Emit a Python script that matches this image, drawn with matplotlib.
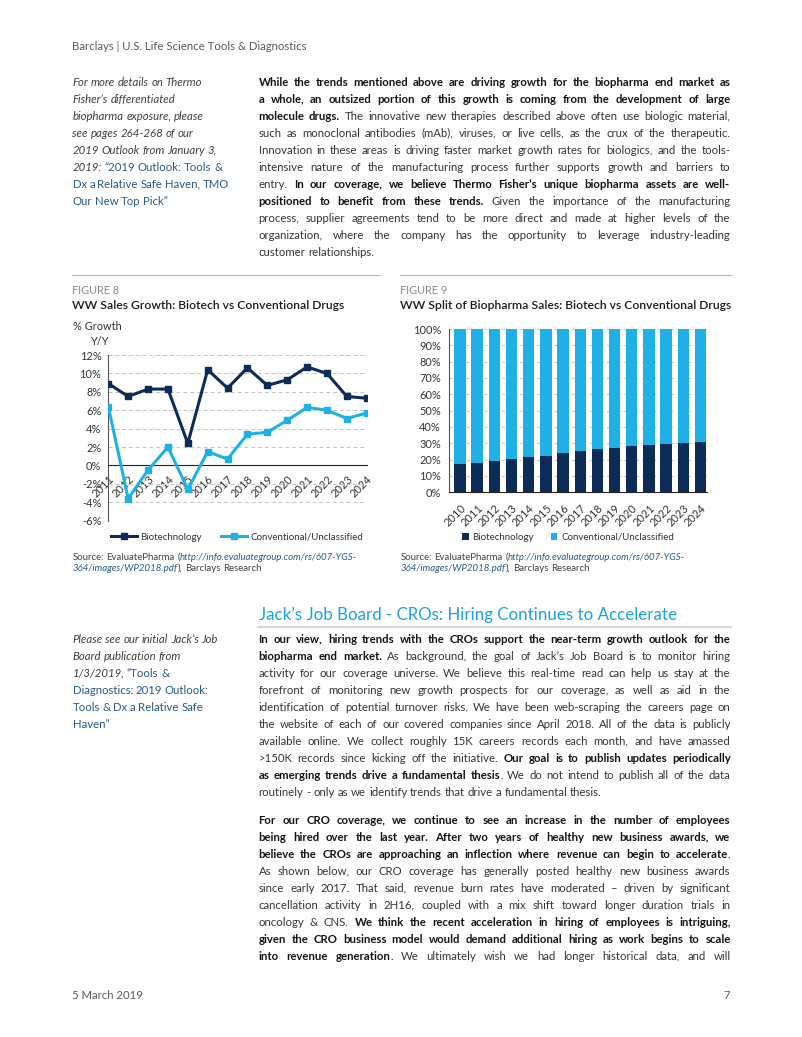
import math
import matplotlib
matplotlib.use('Agg')
import matplotlib.pyplot as plt
from matplotlib.lines import Line2D
import numpy as np

# ---- chart data ----
years_g = ['2011', '2012', '2013', '2014', '2015', '2016', '2017', '2018',
           '2019', '2020', '2021', '2022', '2023', '2024']
biotech_growth = [8.9, 7.5, 8.3, 8.3, 2.4, 10.4, 8.4, 10.6, 8.7, 9.3, 10.7, 10.0, 7.5, 7.3]
conv_growth = [6.4, -3.6, -0.5, 2.0, -2.6, 1.5, 0.7, 3.4, 3.6, 4.9, 6.3, 6.0, 5.1, 5.7]

years_s = ['2010', '2011', '2012', '2013', '2014', '2015', '2016', '2017',
           '2018', '2019', '2020', '2021', '2022', '2023', '2024']
biotech_share = [17.3, 17.8, 19.2, 20.4, 21.4, 22.4, 23.9, 25.1, 26.3, 27.3, 28.4, 29.0, 29.8, 30.2, 30.8]
conv_share = [82.7, 82.2, 80.8, 79.6, 78.6, 77.6, 76.1, 74.9, 73.7, 72.7, 71.6, 71.0, 70.2, 69.8, 69.2]

growth_ticks = [-6, -4, -2, 0, 2, 4, 6, 8, 10, 12]
share_ticks = [0, 10, 20, 30, 40, 50, 60, 70, 80, 90, 100]

# ---- page text ----
header = 'Barclays | U.S. Life Science Tools & Diagnostics'
side1 = ['For more details on Thermo',
         'Fisher\u2019s differentiated',
         'biopharma exposure, please',
         'see pages 264-268 of our',
         '2019 Outlook from January 3,',
         '2019: ~\u201c2019 Outlook: Tools &',
         'Dx a Relative Safe Haven, TMO',
         'Our New Top Pick\u201d~']
para1 = ['*While the trends mentioned above are driving growth for the biopharma end market as',
         'a whole, an outsized portion of this growth is coming from the development of large',
         'molecule drugs.* The innovative new therapies described above often use biologic material,',
         'such as monoclonal antibodies (mAb), viruses, or live cells, as the crux of the therapeutic.',
         'Innovation in these areas is driving faster market growth rates for biologics, and the tools-',
         'intensive nature of the manufacturing process further supports growth and barriers to',
         'entry. *In our coverage, we believe Thermo Fisher\u2019s unique biopharma assets are well-',
         'positioned to benefit from these trends.* Given the importance of the manufacturing',
         'process, supplier agreements tend to be more direct and made at higher levels of the',
         'organization, where the company has the opportunity to leverage industry-leading',
         'customer relationships.']
heading = 'Jack\u2019s Job Board - CROs: Hiring Continues to Accelerate'
side2 = ['Please see our initial Jack\u2019s Job',
         'Board publication from',
         '1/3/2019, ~\u201cTools &',
         'Diagnostics: 2019 Outlook:',
         'Tools & Dx a Relative Safe',
         'Haven\u201d~']
para2 = ['*In our view, hiring trends with the CROs support the near-term growth outlook for the',
         'biopharma end market.* As background, the goal of Jack\u2019s Job Board is to monitor hiring',
         'activity for our coverage universe. We believe this real-time read can help us stay at the',
         'forefront of monitoring new growth prospects for our coverage, as well as aid in the',
         'identification of potential turnover risks. We have been web-scraping the careers page on',
         'the website of each of our covered companies since April 2018. All of the data is publicly',
         'available online. We collect roughly 15K careers records each month, and have amassed',
         '>150K records since kicking off the initiative. *Our goal is to publish updates periodically',
         'as emerging trends drive a fundamental thesis*. We do not intend to publish all of the data',
         'routinely - only as we identify trends that drive a fundamental thesis.']
para3 = ['*For our CRO coverage, we continue to see an increase in the number of employees',
         'being hired over the last year. After two years of healthy new business awards, we',
         'believe the CROs are approaching an inflection where revenue can begin to accelerate*.',
         'As shown below, our CRO coverage has generally posted healthy new business awards',
         'since early 2017. That said, revenue burn rates have moderated \u2013 driven by significant',
         'cancellation activity in 2H16, coupled with a mix shift toward longer duration trials in',
         'oncology & CNS. *We think the recent acceleration in hiring of employees is intriguing,',
         'given the CRO business model would demand additional hiring as work begins to scale',
         'into revenue generation*. We ultimately wish we had longer historical data, and will']
source = ['Source: EvaluatePharma (~http://info.evaluategroup.com/rs/607-YGS-',
          '364/images/WP2018.pdf~), Barclays Research']

NAVY = '#0c2b57'
CYAN = '#1fb1e6'
LINK = '#2a5a86'
FONT = 'Lato'
BODY = 8.2
TICK = 7.9

W, H = 802, 1037
plt.rcParams['font.family'] = [FONT, 'DejaVu Sans']
fig = plt.figure(figsize=(W / 100, H / 100), dpi=100, facecolor='w')
rend = fig.canvas.get_renderer()


def fx(x):
    return x / W


def fy(y):
    return 1 - y / H


def base_y(y):
    # keep every baseline on the same sub-pixel phase so glyphs line up
    return math.floor(y) + 0.7


def wid(s, **kw):
    t = fig.text(0, 0, s, **kw)
    w = t.get_window_extent(rend).width
    t.remove()
    return w


def parse(line, state):
    # '*' toggles bold, '~' toggles the alternate (link) style
    words = []
    for w in line.split(' '):
        if not w:
            continue
        pieces = []
        buf = ''
        for ch in w:
            if ch in '*~':
                if buf:
                    pieces.append((buf, state['b'], state['a']))
                buf = ''
                if ch == '*':
                    state['b'] = not state['b']
                else:
                    state['a'] = not state['a']
            else:
                buf += ch
        if buf:
            pieces.append((buf, state['b'], state['a']))
        if pieces:
            words.append(pieces)
    return words


def block(lines, x0, y0, dy, base, alt=None, bold=None, width=None, last_just=False):
    state = {'b': False, 'a': False}
    sp = wid('x x', **base) - wid('xx', **base)
    for i, line in enumerate(lines):
        words = parse(line, state)
        meas = []
        for pieces in words:
            row = []
            for p, b, a in pieces:
                kw = dict(alt if (a and alt) else base)
                if b and bold:
                    kw.update(bold)
                row.append([p, kw, wid(p, **kw)])
            meas.append(row)
        n = len(meas)
        tot = sum(q[2] for row in meas for q in row)
        is_last = i == len(lines) - 1
        if width and n > 1 and (not is_last or last_just):
            need = tot + (n - 1) * sp * 0.6
            if need > width:
                # squeeze an over-long line a little so it stays in the column
                f = (width - (n - 1) * sp * 0.6) / tot
                for row in meas:
                    for q in row:
                        q[1] = dict(q[1], fontsize=q[1]['fontsize'] * f)
                        q[2] *= f
                tot *= f
            gap = (width - tot) / (n - 1)
        else:
            gap = sp
        x = x0
        y = base_y(y0 + i * dy + 3.5)
        for row in meas:
            for p, kw, w in row:
                fig.text(fx(x), fy(y), p, va='baseline', ha='left', **kw)
                x += w
            x += gap


body_kw = dict(fontsize=BODY, color='#363636')
bold_kw = dict(fontweight='bold', color='#141414')
side_kw = dict(fontsize=BODY, color='#404040', style='italic')
side_link = dict(fontsize=BODY, color=LINK, style='normal')
LS = 16.94

# header / footer
fig.text(fx(72.5), fy(base_y(49.5)), header, fontsize=BODY, color='#5a5a5a', va='baseline')
fig.text(fx(72.5), fy(base_y(998.5)), '5 March 2019', fontsize=BODY, color='#5a5a5a', va='baseline')
fig.text(fx(730.5), fy(base_y(998.5)), '7', fontsize=BODY, color='#5a5a5a', va='baseline', ha='right')

# top text
block(side1, 72.5, 82.3, LS, side_kw, alt=side_link)
block(para1, 258.5, 82.3, LS, body_kw, bold=bold_kw, width=472)

# figure headers
for xa, xb, lab, title in [(72, 380, 'FIGURE 8', 'WW Sales Growth: Biotech vs Conventional Drugs'),
                           (400, 731, 'FIGURE 9', 'WW Split of Biopharma Sales: Biotech vs Conventional Drugs')]:
    fig.add_artist(Line2D([fx(xa), fx(xb)], [fy(275), fy(275)], color='#b5b5b5', lw=0.8))
    fig.text(fx(xa + 0.5), fy(base_y(293.5)), lab, fontsize=7.8, color='#8a8a8a', va='baseline')
    fig.text(fx(xa + 0.5), fy(base_y(308.5)), title, fontsize=8.7, color='#1a1a1a',
             fontweight='semibold', va='baseline')
    block(source, xa + 0.5, 556, 11.3, dict(fontsize=6.9, color='#404040'),
          alt=dict(fontsize=6.9, color=LINK, style='italic'))

# ---- Figure 8: line chart ----
ax1 = fig.add_axes([fx(108.3), fy(520.7), (366.7 - 108.3) / W, (520.7 - 355) / H])
for s in ['top', 'right']:
    ax1.spines[s].set_visible(False)
ax1.spines['bottom'].set_position(('data', 0))
ax1.spines['bottom'].set_color('#222222')
ax1.spines['left'].set_color('#555555')
xg = np.arange(len(years_g))
ax1.plot(xg, biotech_growth, color=NAVY, lw=2.2, marker='s', ms=4.3, label='Biotechnology', zorder=4)
ax1.plot(xg, conv_growth, color=CYAN, lw=2.2, marker='s', ms=5, label='Conventional/Unclassified', zorder=3)
ax1.set_xlim(0, len(years_g) - 1)
ax1.set_ylim(-6, 12)
ax1.set_yticks(growth_ticks)
ax1.set_yticklabels([f'{v}%' for v in growth_ticks])
ax1.set_xticks(xg)
ax1.set_xticklabels(years_g, rotation=45, ha='right', va='top', rotation_mode='anchor')
ax1.yaxis.grid(True, ls=(0, (4, 3)), color='#c4c4c4', lw=0.7)
ax1.set_axisbelow(True)
ax1.tick_params(axis='both', length=0, labelsize=TICK, colors='#333333')
ax1.tick_params(axis='x', pad=6)
ax1.tick_params(axis='y', pad=5)
fig.text(fx(97.5), fy(base_y(329.5)), '% Growth', fontsize=TICK, color='#333333', ha='center', va='baseline')
fig.text(fx(99), fy(base_y(344.5)), 'Y/Y', fontsize=TICK, color='#333333', ha='center', va='baseline')
ax1.legend(loc='center left', bbox_to_anchor=(fx(106), fy(537)), bbox_transform=fig.transFigure,
           ncol=2, frameon=False, fontsize=7.0, handlelength=2.7, handletextpad=0.3,
           columnspacing=2.0, borderpad=0, labelcolor='#333333')

# ---- Figure 9: stacked bars ----
ax2 = fig.add_axes([fx(449.3), fy(492.3), (706.5 - 449.3) / W, (492.3 - 329) / H])
xs = np.arange(len(years_s))
ax2.bar(xs, biotech_share, width=0.66, color=NAVY, label='Biotechnology', zorder=3)
ax2.bar(xs, conv_share, bottom=biotech_share, width=0.66, color=CYAN,
        label='Conventional/Unclassified', zorder=3)
ax2.set_xlim(-0.62, len(years_s) - 1 + 0.35)
ax2.set_ylim(0, 100)
ax2.set_yticks(share_ticks)
ax2.set_yticklabels([f'{v}%' for v in share_ticks])
ax2.set_xticks(xs)
ax2.set_xticklabels(years_s, rotation=45, ha='right', va='top', rotation_mode='anchor')
ax2.yaxis.grid(True, ls=(0, (3, 3)), color='#d2bcbc', lw=0.7)
ax2.set_axisbelow(True)
for s in ['top', 'right']:
    ax2.spines[s].set_visible(False)
ax2.spines['bottom'].set_color('#222222')
ax2.spines['left'].set_color('#555555')
ax2.tick_params(axis='both', length=0, labelsize=TICK, colors='#333333')
ax2.tick_params(axis='x', pad=7)
ax2.tick_params(axis='y', pad=6)
ax2.legend(loc='center left', bbox_to_anchor=(fx(457), fy(537)), bbox_transform=fig.transFigure,
           ncol=2, frameon=False, fontsize=7.0, handlelength=0.7, handleheight=0.7,
           handletextpad=0.4, columnspacing=1.7, borderpad=0, labelcolor='#333333')

# ---- lower section ----
fig.text(fx(259), fy(base_y(619)), heading, fontsize=12.2, color='#1aa3dd', va='baseline')
fig.add_artist(Line2D([fx(258), fx(731)], [fy(626.5), fy(626.5)], color='#d6d6d6', lw=1.6))
block(side2, 72.5, 639.3, LS, side_kw, alt=side_link)
block(para2, 258.5, 639.3, LS, body_kw, bold=bold_kw, width=472)
block(para3, 258.5, 820, LS, body_kw, bold=bold_kw, width=472, last_just=True)

fig.savefig('out.png', dpi=100, facecolor='w')
